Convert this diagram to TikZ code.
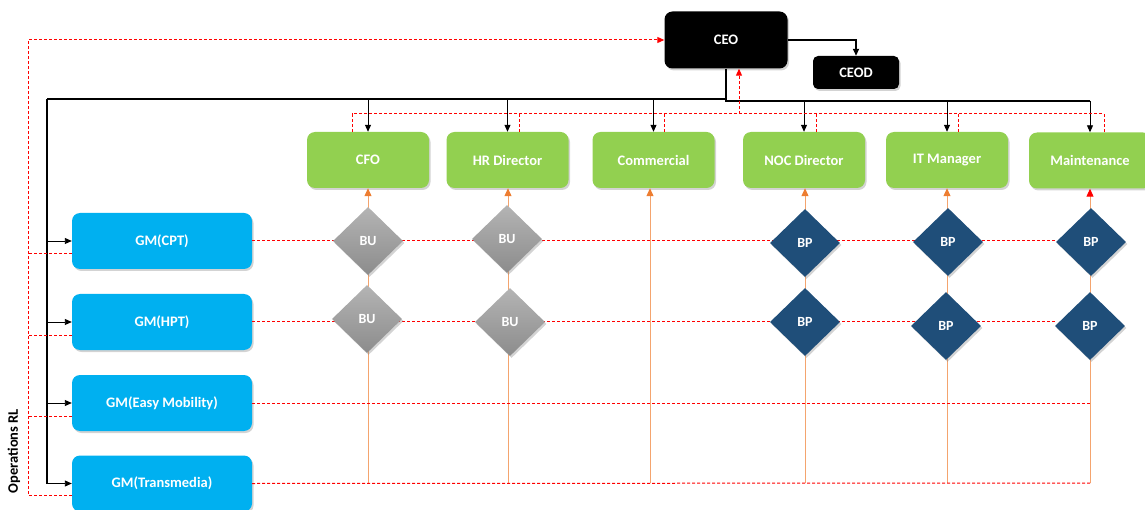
\documentclass[tikz,border=0pt]{standalone}
\usepackage{fontspec}
\setmainfont{Carlito}
\usetikzlibrary{shapes.geometric,arrows.meta,shadows}
\definecolor{mgrgreen}{HTML}{92D050}
\definecolor{gmblue}{HTML}{00B0F0}
\definecolor{bpblue}{HTML}{1F4E79}
\definecolor{buttop}{HTML}{B4B4B4}
\definecolor{bubot}{HTML}{8C8C8C}
\definecolor{linkorange}{HTML}{F4A46E}
\definecolor{tiporange}{HTML}{ED7D31}
\tikzset{
  softshadow/.style={drop shadow={opacity=0.35,shadow xshift=1.5pt,shadow yshift=-2pt}},
  rbox/.style={rounded corners=8pt, minimum height=56pt, inner sep=0pt, text=white,
    font=\bfseries\fontsize{14.5}{16}\selectfont, softshadow},
  mgr/.style={rbox, fill=mgrgreen, minimum width=122pt},
  gm/.style={rbox, fill=gmblue, minimum width=180pt},
  exec/.style={rbox, fill=black, minimum width=123pt, minimum height=57pt},
  diam/.style={diamond, minimum width=70pt, minimum height=68pt, inner sep=0pt,
    text=white, font=\bfseries\fontsize{14}{16}\selectfont, softshadow},
  bu/.style={diam, top color=buttop, bottom color=bubot},
  bp/.style={diam, fill=bpblue},
  reddash/.style={red, line width=1pt, dash pattern=on 3pt off 2pt},
  bus/.style={black, line width=1.6pt},
  drop/.style={black, line width=0.9pt, -{Triangle[length=7pt,width=6pt]}},
  oline/.style={linkorange, line width=1pt, -{Triangle[length=8pt,width=7pt,color=tiporange]}},
}
\begin{document}
\begin{tikzpicture}[x=1pt,y=-1pt]
\useasboundingbox (0,0) rectangle (1145,510);

% ---- coordinates used by the connectors
\coordinate (busL) at (47,99);
\coordinate (busR) at (1090,101);
\coordinate (fb) at (739,114);
\coordinate (lb) at (28,495);
\coordinate (o1) at (368,483);
\coordinate (o2) at (508,483);
\coordinate (o3) at (650,483);
\coordinate (o4) at (805,483);
\coordinate (o5) at (947,483);
\coordinate (o6) at (1090,483);

% ---- executive boxes
\node[exec] (ceo) at (726,40) {CEO};
\node[exec, minimum width=86pt, minimum height=33pt, rounded corners=5pt] (ceod) at (856,72.5) {CEOD};

% ---- department heads
\node[mgr] (cfo) at (368,160) {CFO};
\node[mgr] (hr)  at (507.5,160) {HR Director};
\node[mgr] (com) at (653.5,160) {Commercial};
\node[mgr] (noc) at (804,160) {NOC Director};
\node[mgr] (it)  at (947,160) {IT Manager};
\node[mgr] (mnt) at (1090,160.5) {Maintenance};

% ---- general managers
\node[gm] (cpt) at (162,241) {GM(CPT)};
\node[gm] (hpt) at (162,322) {GM(HPT)};
\node[gm] (em)  at (162,403) {GM(Easy Mobility)};
\node[gm] (tr)  at (162,483.5) {GM(Transmedia)};

% ---- side label
\node[rotate=90, font=\bfseries\fontsize{14.5}{16}\selectfont, inner sep=0pt] (opsrl) at (14,451) {Operations RL};

% ---- orange support lines from the bottom row up to the departments
\draw[oline] (o1) -- (o1 |- cfo.south);
\draw[oline] (o2) -- (o2 |- hr.south);
\draw[oline] (o3) -- (o3 |- com.south);
\draw[oline] (o4) -- (o4 |- noc.south);
\draw[oline] (o5) -- (o5 |- it.south);
\draw[oline, -{Triangle[length=8pt,width=7pt,color=red]}] (o6) -- (o6 |- mnt.south);

% ---- dashed rows from each GM to the right
\draw[reddash] (cpt.east) -- (cpt.east -| 1057,0);
\draw[reddash] (hpt.east) -- (hpt.east -| 1055,0);
\draw[reddash] (em.east) -- (em.east -| o6);
\draw[reddash] (tr.east) -- (o6);

% ---- business units and business partners
\node[bu] (bu1) at (368,241) {BU};
\node[bu] (bu2) at (367,319) {BU};
\node[bu] (bu3) at (507,239) {BU};
\node[bu] (bu4) at (510,322) {BU};
\node[bp] (bp1) at (805,243) {BP};
\node[bp] (bp2) at (805,322) {BP};
\node[bp] (bp3) at (948,242) {BP};
\node[bp] (bp4) at (946,326) {BP};
\node[bp] (bp5) at (1091,242) {BP};
\node[bp] (bp6) at (1090,326) {BP};

% ---- reporting tree (solid)
\draw[bus] (busL) -| (ceo.south);
\draw[bus] (ceo.south) |- (busR);
\draw[bus] (busL) -- (busL |- tr.west);
\draw[drop] (cfo.north |- busL) -- (cfo.north);
\draw[drop] (hr.north |- busL) -- (hr.north);
\draw[drop] (com.north |- busL) -- (com.north);
\draw[drop] (noc.north |- busR) -- (noc.north);
\draw[drop] (it.north |- busR) -- (it.north);
\draw[drop] (mnt.north |- busR) -- (mnt.north);
\draw[drop] (busL |- cpt.west) -- (cpt.west);
\draw[drop] (busL |- hpt.west) -- (hpt.west);
\draw[drop] (busL |- em.west) -- (em.west);
\draw[drop] (busL |- tr.west) -- (tr.west);
\draw[bus, -{Triangle[length=7pt,width=6pt]}] (ceo.east) -| (ceod.north);

% ---- dotted reporting lines back to the CEO
\coordinate (f1) at ([xshift=-16pt]cfo.north);
\coordinate (f2) at ([xshift=11.5pt]hr.north);
\coordinate (f3) at ([xshift=10.5pt]com.north);
\coordinate (f4) at ([xshift=12pt]noc.north);
\coordinate (f5) at ([xshift=11pt]it.north);
\coordinate (f6) at ([xshift=14pt]mnt.north);
\draw[reddash] (f1) -- (f1 |- fb) -- (f6 |- fb) -- (f6);
\foreach \f in {f2,f3,f4,f5} { \draw[reddash] (\f) -- (\f |- fb); }
\draw[reddash, -{Triangle[length=7pt,width=6pt]}] (fb) -- (fb |- ceo.south);

% ---- operations loop on the left
\coordinate (s1) at ([yshift=-13pt]cpt.west);
\coordinate (s2) at ([yshift=-14pt]hpt.west);
\coordinate (s3) at ([yshift=-13pt]em.west);
\coordinate (s4) at ([yshift=-11.5pt]tr.west);
\draw[reddash, -{Triangle[length=7pt,width=6pt]}] (s4) -- (lb) -- (lb |- ceo.west) -- (ceo.west);
\draw[reddash] (s1) -- (s1 -| lb);
\draw[reddash] (s2) -- (s2 -| lb);
\draw[reddash] (s3) -- (s3 -| lb);
\end{tikzpicture}
\end{document}
